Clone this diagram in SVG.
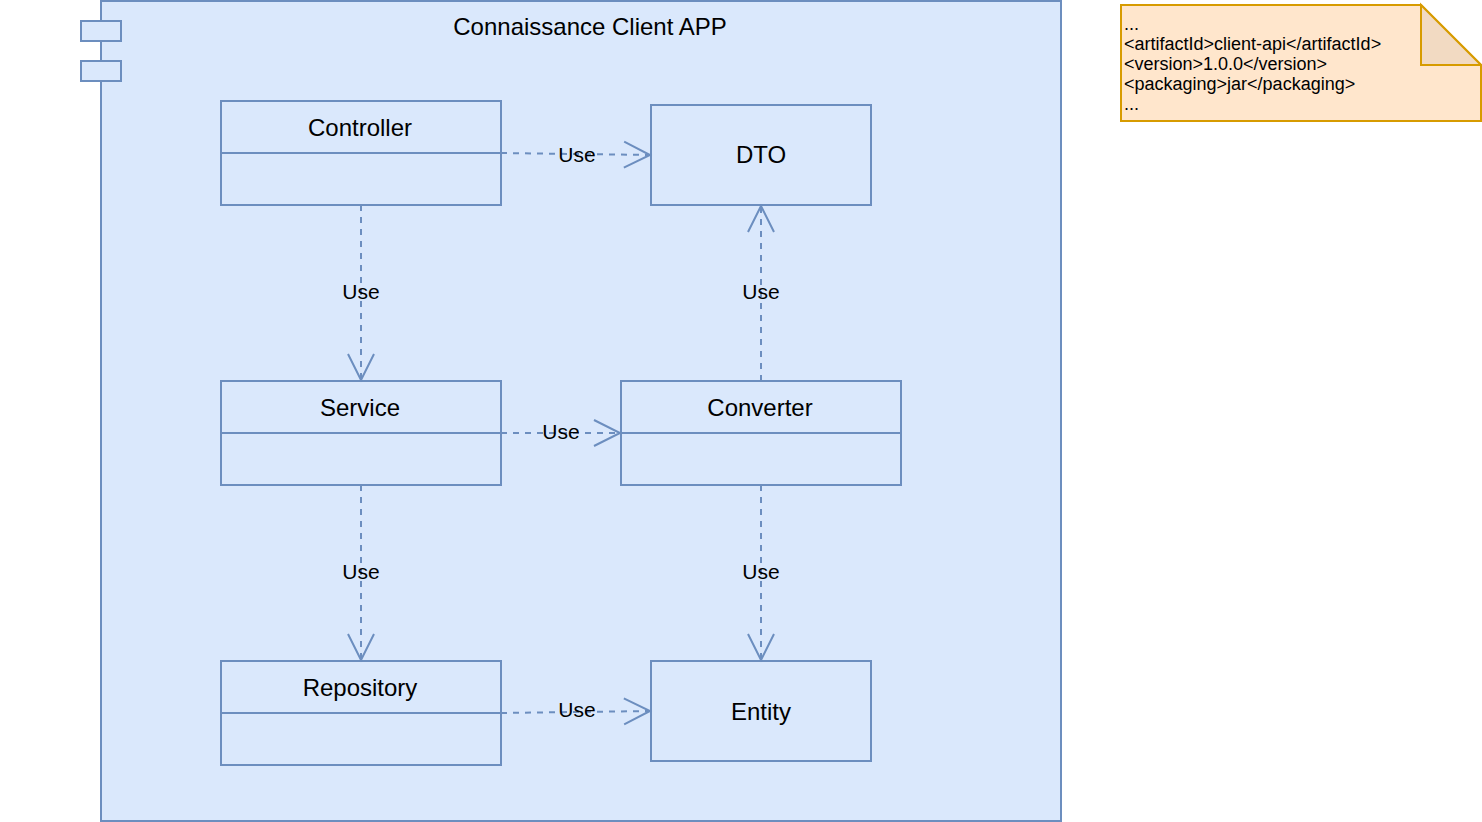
<svg xmlns="http://www.w3.org/2000/svg" width="1482" height="822" viewBox="0 0 1482 822">
<defs>
<style>
.box{fill:#dae8fc;stroke:#6c8ebf;stroke-width:2}
.lbl{font-family:"Liberation Sans",Arial,sans-serif;font-size:24px;fill:#000;text-anchor:middle}
.use{font-family:"Liberation Sans",Arial,sans-serif;font-size:21px;fill:#000;text-anchor:middle}
.edge{fill:none;stroke:#6c8ebf;stroke-width:2;stroke-dasharray:6 6}
.note{font-family:"Liberation Sans",Arial,sans-serif;font-size:18px;fill:#000}
</style>
<marker id="open" viewBox="0 0 30 30" refX="27" refY="15" markerWidth="30" markerHeight="30" markerUnits="userSpaceOnUse" orient="auto">
<path d="M1,2 L27,15 L1,28" fill="none" stroke="#6c8ebf" stroke-width="2"/>
</marker>
</defs>
<rect width="1482" height="822" fill="#ffffff"/>

<g id="component">
<rect class="box" x="101" y="1" width="960" height="820"/>
<rect class="box" x="81" y="21" width="40" height="20"/>
<rect class="box" x="81" y="61" width="40" height="20"/>
<text class="lbl" x="590" y="35">Connaissance Client APP</text>
</g>

<g id="controller">
<rect class="box" x="221" y="101" width="280" height="104"/>
<line x1="221" y1="153" x2="501" y2="153" stroke="#6c8ebf" stroke-width="2"/>
<text class="lbl" x="360" y="136">Controller</text>
</g>

<g id="dto">
<rect class="box" x="651" y="105" width="220" height="100"/>
<text class="lbl" x="761" y="163">DTO</text>
</g>

<g id="service">
<rect class="box" x="221" y="381" width="280" height="104"/>
<line x1="221" y1="433" x2="501" y2="433" stroke="#6c8ebf" stroke-width="2"/>
<text class="lbl" x="360" y="416">Service</text>
</g>

<g id="converter">
<rect class="box" x="621" y="381" width="280" height="104"/>
<line x1="621" y1="433" x2="901" y2="433" stroke="#6c8ebf" stroke-width="2"/>
<text class="lbl" x="760" y="416">Converter</text>
</g>

<g id="repository">
<rect class="box" x="221" y="661" width="280" height="104"/>
<line x1="221" y1="713" x2="501" y2="713" stroke="#6c8ebf" stroke-width="2"/>
<text class="lbl" x="360" y="696">Repository</text>
</g>

<g id="entity">
<rect class="box" x="651" y="661" width="220" height="100"/>
<text class="lbl" x="761" y="720">Entity</text>
</g>

<g id="connectors">
<path class="edge" d="M501,153 L650,155" marker-end="url(#open)"/>
<path class="edge" d="M361,205 L361,380" marker-end="url(#open)"/>
<path class="edge" d="M761,381 L761,206" marker-end="url(#open)"/>
<path class="edge" d="M501,433 L620,433" marker-end="url(#open)"/>
<path class="edge" d="M361,485 L361,660" marker-end="url(#open)"/>
<path class="edge" d="M761,485 L761,660" marker-end="url(#open)"/>
<path class="edge" d="M501,713 L650,711" marker-end="url(#open)"/>
<text class="use" x="577" y="162">Use</text>
<text class="use" x="361" y="299">Use</text>
<text class="use" x="761" y="299">Use</text>
<text class="use" x="561" y="439">Use</text>
<text class="use" x="361" y="579">Use</text>
<text class="use" x="761" y="579">Use</text>
<text class="use" x="577" y="717">Use</text>
</g>

<g id="note">
<path d="M1121,5 L1421,5 L1481,65 L1481,121 L1121,121 Z" fill="#ffe6cc" stroke="#d79b00" stroke-width="2"/>
<path d="M1421,5 L1421,65 L1481,65 Z" fill="#f2dac2" stroke="#d79b00" stroke-width="2"/>
<text class="note" x="1124" y="30">...</text>
<text class="note" x="1124" y="50">&lt;artifactId&gt;client-api&lt;/artifactId&gt;</text>
<text class="note" x="1124" y="70">&lt;version&gt;1.0.0&lt;/version&gt;</text>
<text class="note" x="1124" y="90">&lt;packaging&gt;jar&lt;/packaging&gt;</text>
<text class="note" x="1124" y="110">...</text>
</g>
</svg>
